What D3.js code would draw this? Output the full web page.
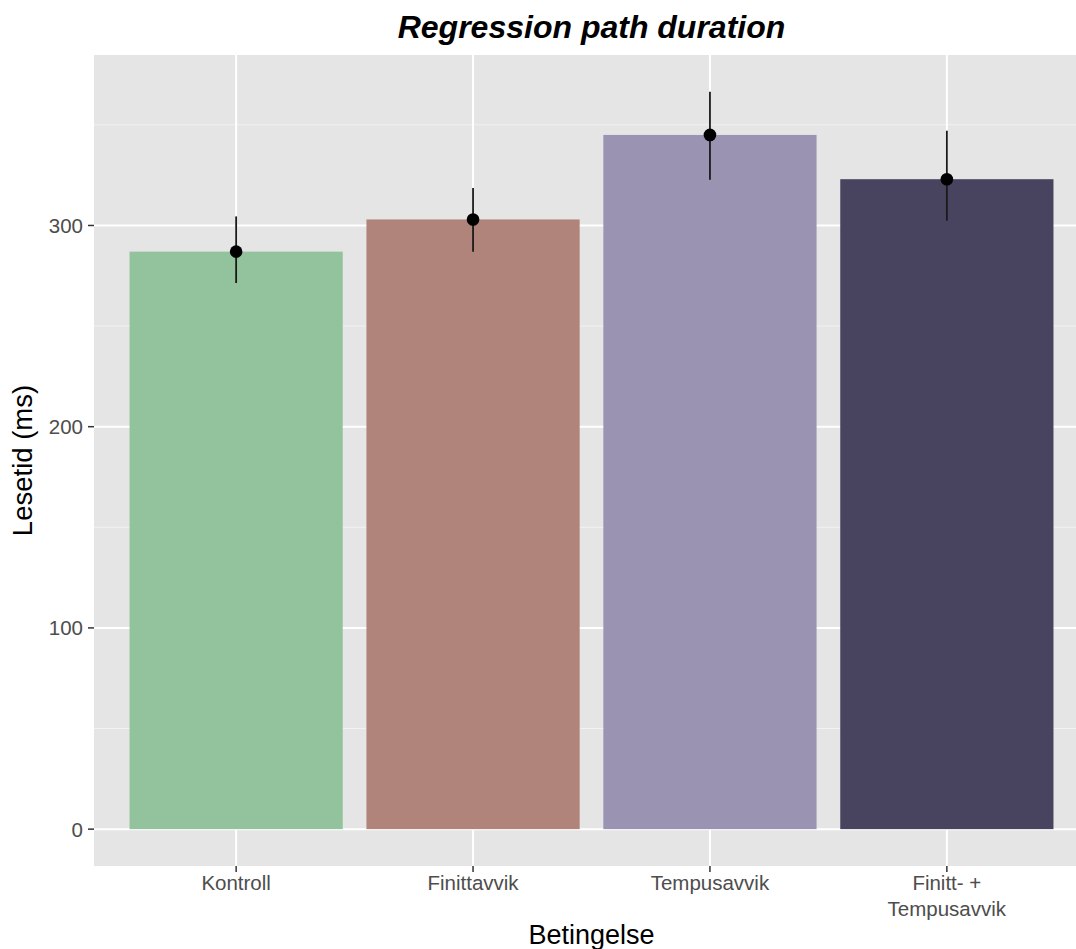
<!DOCTYPE html>
<html>
<head>
<meta charset="utf-8">
<script src="https://cdn.jsdelivr.net/npm/d3@7"></script>
<style>
  html, body { margin: 0; padding: 0; background: #fff; }
  svg { display: block; }
</style>
</head>
<body>
<svg id="chart" width="1076" height="949"></svg>
<script>
const categories = ["Kontroll", "Finittavvik", "Tempusavvik", "Finitt- +\nTempusavvik"];
const means = [287, 303, 345, 323];
const lower = [271.4, 287, 322.7, 302.4];
const upper = [304.5, 318.6, 366.4, 347.1];
const colors = ["#92c39d", "#b0837b", "#9a93b2", "#48445f"];
const yTicks = [0, 100, 200, 300];
const yMinor = [50, 150, 250, 350];
const title = "Regression path duration";
const xTitle = "Betingelse";
const yTitle = "Lesetid (ms)";

const svg = d3.select("#chart");
const font = "'Liberation Sans', Arial, Helvetica, sans-serif";

// panel geometry (ggplot-like)
const panel = { left: 94, right: 1089, top: 55, bottom: 866 };

// discrete scale with ggplot expansion: 0.6 units each side, bar width 0.9
const x = d3.scalePoint()
  .domain(categories)
  .range([panel.left, panel.right])
  .padding(0.6);
const cx = i => x(categories[i]);
const barW = x.step() * 0.9;

const dataMax = d3.max(upper);
const y = d3.scaleLinear()
  .domain([0 - dataMax * 0.05, dataMax * 1.05])
  .range([panel.bottom, panel.top]);

// panel background
svg.append("rect")
  .attr("x", panel.left).attr("y", panel.top)
  .attr("width", panel.right - panel.left).attr("height", panel.bottom - panel.top)
  .attr("fill", "#e5e5e5");

// minor gridlines
svg.append("g").selectAll("line").data(yMinor).join("line")
  .attr("x1", panel.left).attr("x2", panel.right)
  .attr("y1", d => y(d)).attr("y2", d => y(d))
  .attr("stroke", "#f2f2f2").attr("stroke-width", 1);

// major gridlines
svg.append("g").selectAll("line").data(yTicks).join("line")
  .attr("x1", panel.left).attr("x2", panel.right)
  .attr("y1", d => y(d)).attr("y2", d => y(d))
  .attr("stroke", "#ffffff").attr("stroke-width", 2);

svg.append("g").selectAll("line").data(categories).join("line")
  .attr("x1", (d, i) => cx(i)).attr("x2", (d, i) => cx(i))
  .attr("y1", panel.top).attr("y2", panel.bottom)
  .attr("stroke", "#ffffff").attr("stroke-width", 2);

// bars
svg.append("g").selectAll("rect").data(means).join("rect")
  .attr("x", (d, i) => cx(i) - barW / 2)
  .attr("width", barW)
  .attr("y", d => y(d))
  .attr("height", d => y(0) - y(d))
  .attr("fill", (d, i) => colors[i]);

// error bars
svg.append("g").selectAll("line").data(means).join("line")
  .attr("x1", (d, i) => cx(i)).attr("x2", (d, i) => cx(i))
  .attr("y1", (d, i) => y(upper[i])).attr("y2", (d, i) => y(lower[i]))
  .attr("stroke", "#1a1a1a").attr("stroke-width", 1.8);

// points
svg.append("g").selectAll("circle").data(means).join("circle")
  .attr("cx", (d, i) => cx(i)).attr("cy", d => y(d))
  .attr("r", 6.3).attr("fill", "#000");

// y axis ticks + labels
const yAxis = svg.append("g");
yAxis.selectAll("line").data(yTicks).join("line")
  .attr("x1", panel.left - 6).attr("x2", panel.left)
  .attr("y1", d => y(d)).attr("y2", d => y(d))
  .attr("stroke", "#333").attr("stroke-width", 1.5);
yAxis.selectAll("text").data(yTicks).join("text")
  .attr("x", panel.left - 11).attr("y", d => y(d))
  .attr("dy", "0.36em").attr("text-anchor", "end")
  .attr("font-family", font).attr("font-size", 20.5).attr("fill", "#4d4d4d")
  .text(d => d3.format("d")(d));

// x axis ticks + labels
const xAxis = svg.append("g");
xAxis.selectAll("line").data(categories).join("line")
  .attr("x1", (d, i) => cx(i)).attr("x2", (d, i) => cx(i))
  .attr("y1", panel.bottom).attr("y2", panel.bottom + 6)
  .attr("stroke", "#333").attr("stroke-width", 1.5);
xAxis.selectAll("text").data(categories).join("text")
  .attr("x", (d, i) => cx(i)).attr("y", 890)
  .attr("text-anchor", "middle")
  .attr("font-family", font).attr("font-size", 20.5).attr("fill", "#4d4d4d")
  .each(function (d, i) {
    const lines = d.split("\n");
    d3.select(this).selectAll("tspan").data(lines).join("tspan")
      .attr("x", cx(i)).attr("dy", (l, j) => j === 0 ? 0 : 26)
      .text(l => l);
  });

// titles
svg.append("text")
  .attr("x", (panel.left + panel.right) / 2).attr("y", 38)
  .attr("text-anchor", "middle")
  .attr("font-family", font).attr("font-size", 32)
  .attr("font-weight", "bold").attr("font-style", "italic").attr("fill", "#000")
  .text(title);

svg.append("text")
  .attr("x", (panel.left + panel.right) / 2).attr("y", 944)
  .attr("text-anchor", "middle")
  .attr("font-family", font).attr("font-size", 27).attr("fill", "#000")
  .text(xTitle);

svg.append("text")
  .attr("transform", `translate(32, ${(panel.top + panel.bottom) / 2}) rotate(-90)`)
  .attr("text-anchor", "middle")
  .attr("font-family", font).attr("font-size", 27.5).attr("fill", "#000")
  .text(yTitle);
</script>
</body>
</html>
